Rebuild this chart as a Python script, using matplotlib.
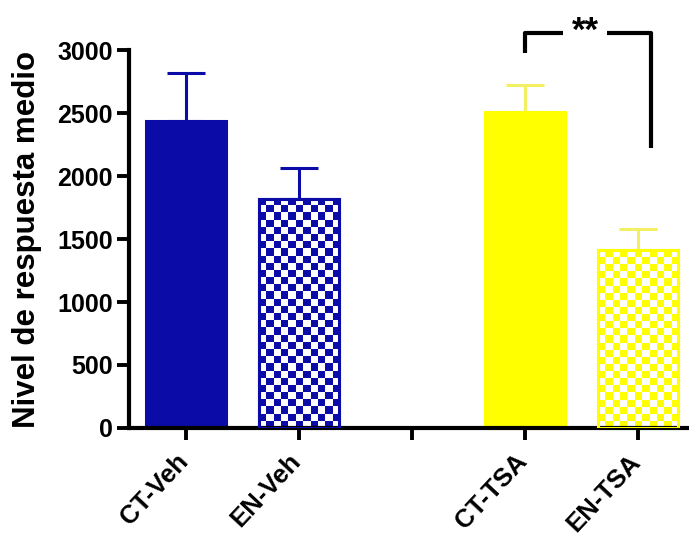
import numpy as np
import matplotlib
matplotlib.use("Agg")
import matplotlib.pyplot as plt
import matplotlib.transforms as mtransforms

plt.rcParams["font.family"] = ["Liberation Sans", "DejaVu Sans"]
plt.rcParams["font.weight"] = "bold"

# === Data ===================================================================
labels = ["CT-Veh", "EN-Veh", "", "CT-TSA", "EN-TSA"]
positions = [0, 1, 3, 4]
means = [2440, 1820, 2505, 1410]
sem = [378, 243, 217, 170]
blue = "#0B0BA8"
yellow = "#FFFF00"
colors = [blue, blue, yellow, yellow]
err_colors = [blue, blue, "#F3EF62", "#F3EF62"]
checkered = [False, True, False, True]

# significance bracket CT-TSA vs EN-TSA
br_left_x, br_right_x = 3.0, 4.12
br_left_y, br_right_y, br_top_y = 2975, 2222, 3135
br_gap = (3.34, 3.73)
sig_text = "**"

# === Figure =================================================================
fig = plt.figure(figsize=(6.89, 5.36), dpi=100)
ax = fig.add_axes([129 / 689, 0.2015, 1 - 129 / 689, 0.7052])
ax.set_xlim(-0.504, 4.452)
ax.set_ylim(0, 3000)

bar_w = 0.71
bars = ax.bar(positions, means, width=bar_w, color=colors, edgecolor=colors,
              linewidth=2.2, zorder=2)

# checker fill for EN groups (clipped image inside each bar)
fig.canvas.draw()
cell_px = 7.2
for b, col, chk in zip(bars, colors, checkered):
    if not chk:
        continue
    x0, w, h = b.get_x(), b.get_width(), b.get_height()
    p0 = ax.transData.transform((x0, 0))
    p1 = ax.transData.transform((x0 + w, h))
    nx = max(1, int(round((p1[0] - p0[0]) / cell_px)))
    ny = max(1, int(round((p1[1] - p0[1]) / cell_px)))
    board = (np.add.outer(np.arange(ny), np.arange(nx)) % 2).astype(float)
    rgb = np.array(matplotlib.colors.to_rgb(col))
    img = np.ones((ny, nx, 3))
    img[board == 1] = rgb
    im = ax.imshow(img, extent=(x0, x0 + w, 0, h), origin="lower",
                   interpolation="nearest", aspect="auto", zorder=2.5)
    im.set_clip_path(b)
    b.set_facecolor("white")
    frame = plt.Rectangle((x0, 0), w, h, fill=False, edgecolor=col,
                          linewidth=2.2, zorder=3)
    ax.add_patch(frame)

for x, m, e, c in zip(positions, means, sem, err_colors):
    ax.errorbar(x, m, yerr=[[0], [e]], fmt="none", ecolor=c, elinewidth=2.2,
                capsize=14, capthick=2.2, zorder=1.5)

ax.set_aspect("auto")
ax.set_xlim(-0.504, 4.452)
ax.set_ylim(0, 3000)

# bracket
lw_br = 3.0
ax.plot([br_left_x, br_left_x, br_gap[0]], [br_left_y, br_top_y, br_top_y],
        color="black", lw=lw_br, clip_on=False, solid_capstyle="butt")
ax.plot([br_gap[1], br_right_x, br_right_x], [br_top_y, br_top_y, br_right_y],
        color="black", lw=lw_br, clip_on=False, solid_capstyle="butt")
ax.text(sum(br_gap) / 2, br_top_y + 10, sig_text, ha="center", va="center",
        fontsize=25, fontweight="bold", clip_on=False)

# axes styling
for s in ["top", "right"]:
    ax.spines[s].set_visible(False)
for s in ["left", "bottom"]:
    ax.spines[s].set_linewidth(3.0)
ax.set_yticks([0, 500, 1000, 1500, 2000, 2500, 3000])
ax.set_xticks(range(len(labels)))
ax.set_xticklabels(labels, rotation=47, ha="right")
ax.tick_params(axis="both", direction="out", length=8.5, width=2.8,
               labelsize=18, pad=3.0)
ax.tick_params(axis="x", pad=7, labelsize=18.5)
shift = mtransforms.ScaledTranslation(5 / 72, 0, fig.dpi_scale_trans)
for lab in ax.get_xticklabels():
    lab.set_transform(lab.get_transform() + shift)
    lab.set_fontweight("bold")
for lab in ax.get_yticklabels():
    lab.set_fontweight("bold")

ax.set_ylabel("Nivel de respuesta medio", fontsize=22.5, fontweight="bold",
              labelpad=11)

fig.savefig("out.png", dpi=100)
